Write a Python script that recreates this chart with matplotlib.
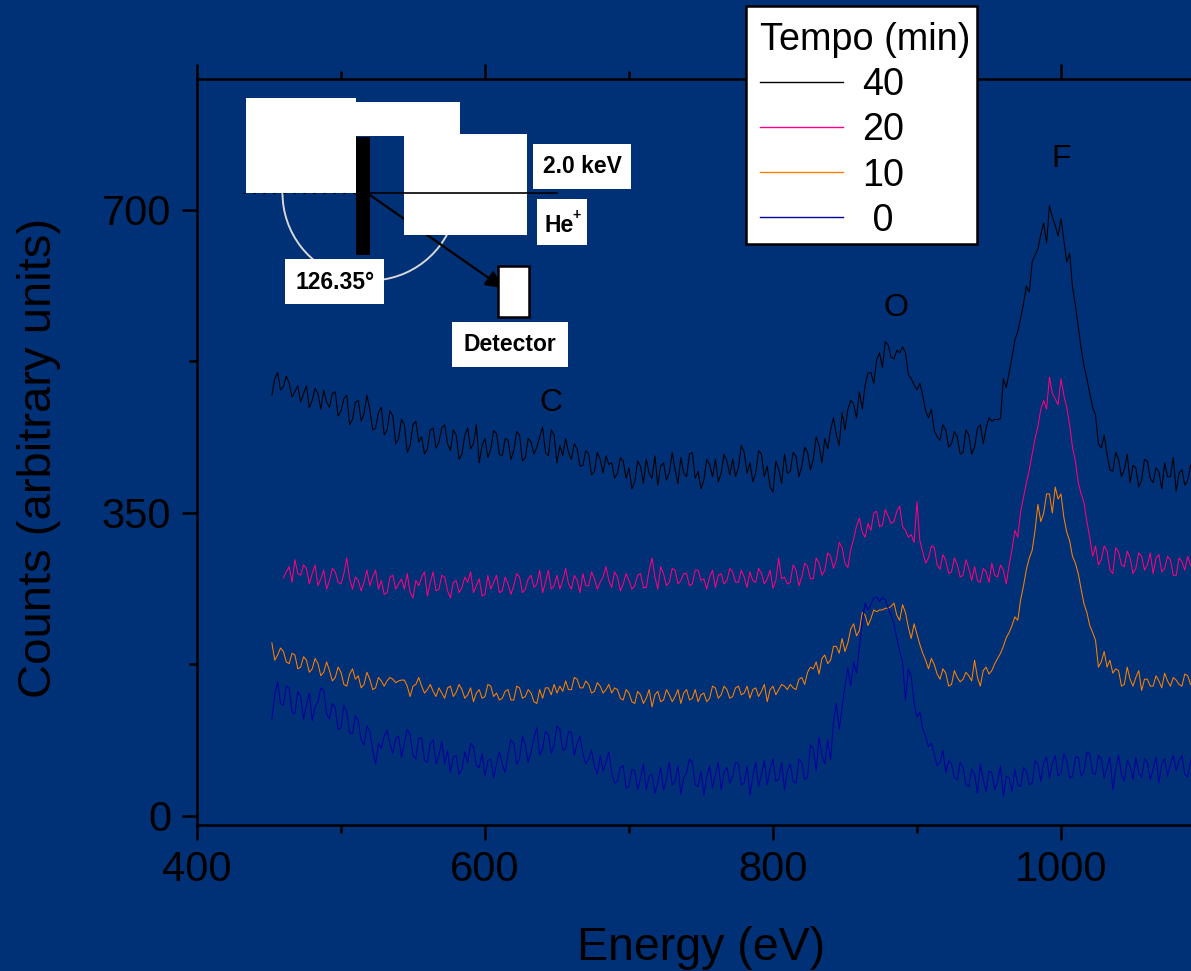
# -*- coding: utf-8 -*-
# LEIS spectra, He+ 2.0 keV, sample after different times
from matplotlib import pyplot as plt
from matplotlib import rcParams
from matplotlib import patches
from matplotlib.lines import Line2D
from matplotlib.transforms import Affine2D
import numpy as np

rcParams['font.family'] = ['Liberation Sans', 'DejaVu Sans']
rcParams['axes.linewidth'] = 1.8

BG = '#003075'

# Spectra, 2 eV between points
step = 2
start_40 = 452
counts_40 = [486,505,512,492,496,508,500,484,490,497,478,488,497,472,480,494,488,470,492,478,
             472,488,490,462,468,482,486,452,458,478,480,456,465,486,470,446,448,466,472,440,
             446,468,462,430,436,458,452,420,428,452,456,432,438,418,424,446,448,425,432,448,
             452,430,422,446,440,412,418,440,448,424,430,452,408,428,436,414,424,445,442,418,
             416,436,434,412,422,444,440,410,414,436,432,418,426,438,449,420,416,446,440,408,
             428,416,436,420,412,430,424,404,405,422,418,394,398,420,412,396,416,406,408,390,
             396,414,410,390,402,378,386,410,404,384,412,396,390,416,382,404,408,388,396,420,
             400,384,414,396,392,418,420,390,398,378,388,412,406,392,412,386,396,418,410,394,
             412,392,402,428,420,396,408,386,396,422,418,392,404,380,374,410,400,384,418,396,
             398,420,415,392,404,426,420,400,412,438,428,408,436,424,446,460,440,428,466,446,
             470,480,476,460,490,470,498,512,512,500,527,535,518,548,544,530,528,538,535,542,
             535,510,505,498,492,500,486,468,460,470,445,438,434,452,446,426,430,444,438,418,
             420,446,440,418,426,448,452,430,448,460,456,458,458,459,505,495,512,530,550,560,
             575,592,612,605,640,648,655,672,685,662,705,692,682,670,690,665,640,650,611,590,
             565,540,520,505,488,472,463,430,425,440,418,400,398,420,412,392,400,418,385,405,
             402,380,388,412,410,390,385,402,398,378,408,392,392,414,375,396,400,382,388,405,402]

start_20 = 460
counts_20 = [275,282,288,270,296,280,278,290,286,268,280,290,266,274,284,262,272,286,282,270,
             268,280,298,274,262,276,272,260,270,284,266,276,284,262,272,256,258,276,278,262,
             268,274,262,280,258,252,272,266,276,282,254,270,282,260,262,278,276,260,252,270,
             272,258,264,276,270,282,258,266,274,254,256,278,262,270,278,258,260,276,268,256,
             266,280,276,258,262,274,278,264,268,284,258,270,284,262,266,278,262,272,286,268,
             262,278,272,258,280,266,266,282,274,262,270,276,288,272,264,282,276,260,268,280,
             272,262,266,278,280,264,264,284,298,276,262,288,280,266,270,286,284,268,272,280,
             280,266,268,284,284,272,274,262,276,284,264,278,280,268,272,286,282,270,270,284,
             276,264,282,272,270,286,280,268,274,284,263,272,298,274,276,268,270,290,284,266,
             276,292,288,274,274,298,292,278,284,304,300,286,296,316,310,292,287,308,320,335,
             344,328,322,338,330,350,352,334,336,354,346,338,340,352,358,334,330,322,325,316,
             363,318,305,292,298,312,310,290,285,302,295,280,282,298,290,276,278,296,286,272,
             288,272,270,286,282,270,292,278,276,290,284,268,290,308,330,322,352,368,385,400,
             418,436,450,470,480,470,507,488,482,475,505,486,472,452,426,410,385,372,362,340,
             322,300,312,290,296,312,306,284,280,310,305,290,288,306,298,280,286,304,300,284,
             290,304,280,298,302,282,286,300,296,278,278,298,294,284,300,290,285]

start_10 = 452
counts_10 = [200,180,186,194,190,178,176,188,186,170,172,184,180,166,170,182,176,162,166,178,
             168,156,160,172,166,152,150,164,170,158,162,148,152,166,158,146,148,160,156,150,
             156,160,158,154,156,157,157,150,138,150,152,160,150,142,146,152,144,138,148,142,
             136,148,150,138,143,152,146,136,140,148,132,142,146,136,138,152,150,138,142,134,
             136,144,146,134,134,150,148,136,138,146,142,132,130,146,136,148,148,140,152,142,
             150,144,156,146,146,160,158,148,148,156,152,142,144,154,150,142,146,152,142,148,
             146,136,134,146,142,132,130,144,140,130,136,146,126,140,144,132,134,146,140,132,
             138,146,130,142,146,134,136,146,132,140,142,132,136,150,148,136,140,150,146,136,
             138,148,150,140,142,150,136,146,148,138,144,152,132,146,150,140,146,152,150,146,
             152,148,146,158,160,152,166,172,170,178,164,182,186,176,180,196,196,188,205,190,
             200,216,222,208,214,235,232,220,228,238,236,238,238,240,240,242,246,232,226,244,
             235,218,205,222,210,198,188,180,170,182,175,164,158,170,165,150,152,168,160,155,
             158,166,162,156,180,160,150,168,172,164,168,176,182,188,196,206,212,220,230,226,
             250,266,285,298,307,330,360,340,350,372,372,350,380,366,372,345,328,318,300,292,
             280,262,245,235,220,212,203,172,178,190,172,180,165,170,168,150,152,172,158,150,
             160,168,145,158,158,150,150,162,156,148,165,156,150,160,157,152,150,164,162,152,155]

start_0 = 452
counts_0 = [112,140,155,130,128,150,148,120,118,144,138,112,128,142,110,126,132,148,145,118,
            112,130,125,100,102,128,120,96,95,116,110,88,82,104,98,76,60,84,78,92,
            99,84,72,90,92,68,84,100,94,70,66,90,90,64,62,84,88,60,70,86,
            60,76,50,68,70,48,54,74,62,84,80,58,56,72,46,64,66,44,60,74,
            60,50,72,88,84,60,66,92,82,62,74,90,102,70,78,98,94,72,82,104,
            100,76,78,98,96,70,84,92,72,60,66,76,58,48,70,52,62,74,50,38,
            40,56,58,32,34,54,52,30,44,60,30,46,48,26,38,56,30,42,62,36,
            40,58,25,44,50,66,62,36,34,52,24,46,58,32,48,62,30,50,56,38,
            46,62,60,36,38,58,24,46,62,34,48,64,36,54,66,40,42,62,30,52,
            60,40,38,66,62,42,45,82,78,52,91,70,60,88,65,108,130,100,125,150,
            171,150,178,165,195,225,246,238,244,252,253,248,252,250,240,232,222,205,190,178,
            134,170,161,130,114,120,100,92,80,84,72,58,62,76,50,64,60,44,42,62,
            56,36,34,54,48,26,60,42,28,52,50,30,40,58,22,46,44,28,54,36,
            34,56,52,36,38,64,60,40,62,68,44,60,70,46,50,72,64,44,46,68,
            68,46,52,74,72,50,48,70,66,44,56,68,30,54,70,48,40,64,58,42,
            68,50,44,66,62,42,54,68,38,60,66,46,60,70,52,64,70,48,45,62,78]

series_labels = ['40', '20', '10', ' 0']
series_starts = [start_40, start_20, start_10, start_0]
series_counts = [counts_40, counts_20, counts_10, counts_0]
series_colors = ['#000000', '#FF0080', '#FF8000', '#0000A0']

peak_names = ['C', 'O', 'F']
peak_energy = [646, 885.5, 1000]
peak_height = [476.5, 586.5, 758.5]

x_ticks = [400, 600, 800, 1000]
x_minor = [500, 700, 900]
y_ticks = [0, 350, 700]
y_minor = [175, 525]

# %% Plot
fig = plt.figure(figsize=(11.91, 9.71), dpi=100, facecolor=BG)
a = fig.add_axes([197/1191, (971-825)/971, 1-197/1191, (825-79)/971])
a.set_facecolor(BG)

for i in range(4):
    energy = series_starts[i] + step*np.arange(len(series_counts[i]))
    a.plot(energy, series_counts[i], color=series_colors[i], linewidth=0.75)

a.set_xlim(400, 1090.3)
a.set_ylim(-10.4, 851.3)

a.spines['right'].set_visible(False)
a.xaxis.set_ticks_position('both')
a.set_xticks(x_ticks)
a.set_xticks(x_minor, minor=True)
a.set_yticks(y_ticks)
a.set_yticks(y_minor, minor=True)
a.tick_params(which='major', direction='out', length=11, width=1.8, labelsize=30, colors='k')
a.tick_params(which='minor', direction='out', length=5.5, width=1.8, colors='k')
a.tick_params(axis='x', which='major', pad=7)
a.tick_params(axis='y', which='major', pad=7.5)

fig.text(701/1191, 1-948/971, 'Energy (eV)', fontsize=33.5, ha='center', va='center')
fig.text(39/1191, 1-458/971, 'Counts (arbitrary units)', fontsize=34, rotation=90, ha='center', va='center')

for i in range(3):
    a.text(peak_energy[i], peak_height[i], peak_names[i], fontsize=23, ha='center', va='center')

# Scattering sketch, placed in image pixels
px = Affine2D().scale(1, -1).translate(0, 971)

a.add_patch(patches.Arc((370, 193), 175, 175, theta1=28, theta2=180, transform=px,
                        color='#D8D8D8', linewidth=1.4, clip_on=False, zorder=3))
a.annotate('', xy=(503, 288), xytext=(370, 195), xycoords=px, textcoords=px, zorder=4,
           arrowprops=dict(arrowstyle='-|>', color='k', lw=1.6, mutation_scale=26, shrinkA=0, shrinkB=0))

white_boxes = [(246, 98, 110, 95), (356, 102, 104, 34), (404, 134, 123, 101),
               (533, 144, 98, 45), (537, 199, 50, 46), (285, 259, 99, 45), (452, 322, 116, 45)]
for x0, y0, w, h in white_boxes:
    a.add_patch(patches.Rectangle((x0, y0), w, h, transform=px, facecolor='w', edgecolor='none',
                                  clip_on=False, zorder=5))
a.add_patch(patches.Rectangle((356, 137), 14, 118, transform=px, facecolor='k', edgecolor='none',
                              clip_on=False, zorder=6))
a.add_patch(patches.Rectangle((498, 266), 31, 51, transform=px, facecolor='w', edgecolor='k',
                              linewidth=1.8, clip_on=False, zorder=6))
a.plot([243, 356], [193, 193], transform=px, color='k', linewidth=0.8, linestyle=(0, (2, 7)),
       clip_on=False, zorder=6, scalex=False, scaley=False)
a.plot([370, 557], [193, 193], transform=px, color='k', linewidth=1.2,
       clip_on=False, zorder=6, scalex=False, scaley=False)

sketch_labels = [('2.0 keV', 582, 166), ('126.35°', 335, 282), ('Detector', 510, 344)]
for txt, tx, ty in sketch_labels:
    a.text(tx, ty, txt, transform=px, fontsize=16.5, fontweight='bold', ha='center', va='center',
           clip_on=False, zorder=7)
a.text(544, 225, 'He', transform=px, fontsize=16.5, fontweight='bold', ha='left', va='center',
       clip_on=False, zorder=7)
a.text(572, 215, '+', transform=px, fontsize=10, fontweight='bold', ha='left', va='center',
       clip_on=False, zorder=7)

# Legend box
a.add_patch(patches.Rectangle((746, 6), 231, 238, transform=px, facecolor='w', edgecolor='k',
                              linewidth=1.8, clip_on=False, zorder=8))
handles = [Line2D([0], [0], color=c, linewidth=1) for c in series_colors]
leg = a.legend(handles, series_labels, title='Tempo (min)', loc='upper left',
               bbox_to_anchor=(749, 11), bbox_transform=px, borderaxespad=0,
               fontsize=27.2, title_fontsize=27.2, frameon=False, handlelength=2.2,
               handletextpad=0.5, labelspacing=0.24, borderpad=0.3, alignment='left')
leg.set_zorder(9)

fig.savefig('out.png', dpi=100, facecolor=BG)
